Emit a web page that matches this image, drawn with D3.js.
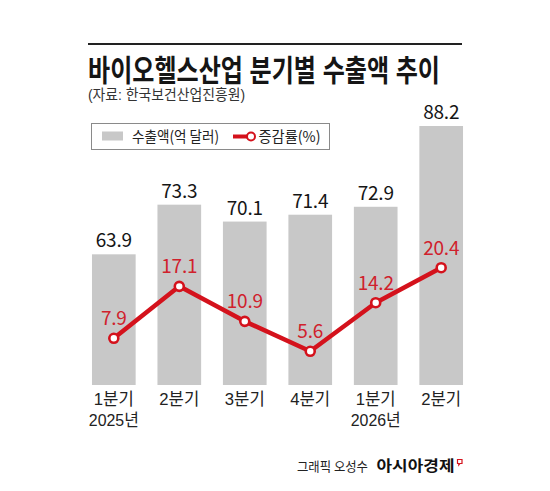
<!DOCTYPE html>
<html>
<head>
<meta charset="utf-8">
<script src="https://cdn.jsdelivr.net/npm/d3@7"></script>
<style>
  html, body { margin: 0; padding: 0; background: #fff; }
  svg { display: block; }
  text { font-family: "Noto Sans CJK KR", "Noto Sans", sans-serif; }
  text.tight { font-family: "Liberation Sans", "Noto Sans CJK KR", sans-serif; }
</style>
</head>
<body>
<script>
// ---- data ----
const quarters = ["1분기", "2분기", "3분기", "4분기", "1분기", "2분기"];
const years = ["2025년", "", "", "", "2026년", ""];
const exports = [63.9, 73.3, 70.1, 71.4, 72.9, 88.2];       // 수출액(억 달러)
const growth = [7.9, 17.1, 10.9, 5.6, 14.2, 20.4];          // 증감률(%)
const title = "바이오헬스산업 분기별 수출액 추이";
const source = "(자료: 한국보건산업진흥원)";
const legendLabels = ["수출액(억 달러)", "증감률(%)"];

const W = 550, H = 491;
const barColor = "#c8c8c8";
const red = "#d4121c";
const redText = "#d0212c";
const ink = "#151515";

const svg = d3.select("body").append("svg").attr("width", W).attr("height", H);

const idx = d3.range(quarters.length);
const x = d3.scaleBand().domain(idx).range([81.5, 473.5]).paddingInner(0.333).paddingOuter(0.16);
const yBar = d3.scaleLinear().domain([39.15, 88.2]).range([385, 126]);
const yLine = d3.scaleLinear().domain([0, 20.4]).range([382.9, 267.7]);
const cx = i => x(i) + x.bandwidth() / 2;

function fit(sel, len) { return sel.attr("textLength", len).attr("lengthAdjust", "spacingAndGlyphs"); }

// top rule
svg.append("line").attr("x1", 88).attr("x2", 462).attr("y1", 44).attr("y2", 44)
  .attr("stroke", "#222").attr("stroke-width", 1.8);

// title + source
fit(svg.append("text").attr("class", "tight").attr("x", 88).attr("y", 80.5).attr("font-size", 30).attr("font-weight", 700)
  .attr("fill", ink).text(title), 352);
fit(svg.append("text").attr("class", "tight").attr("x", 88).attr("y", 100).attr("font-size", 15)
  .attr("fill", "#333").text(source), 157);

// bars
svg.append("g").selectAll("rect").data(exports).join("rect")
  .attr("x", (d, i) => x(i)).attr("width", x.bandwidth())
  .attr("y", d => yBar(d)).attr("height", d => yBar.range()[0] - yBar(d))
  .attr("fill", barColor);

svg.append("g").selectAll("text").data(exports).join("text")
  .attr("x", (d, i) => cx(i)).attr("y", d => yBar(d) - 7)
  .attr("text-anchor", "middle").attr("font-size", 19).attr("fill", ink)
  .attr("letter-spacing", -0.2)
  .text(d => d.toFixed(1));

// line
const line = d3.line().x((d, i) => cx(i)).y(d => yLine(d));
svg.append("path").datum(growth).attr("d", line)
  .attr("fill", "none").attr("stroke", red).attr("stroke-width", 4.5).attr("stroke-linejoin", "round");
svg.append("g").selectAll("circle").data(growth).join("circle")
  .attr("cx", (d, i) => cx(i)).attr("cy", d => yLine(d)).attr("r", 4.5)
  .attr("fill", "#fff").attr("stroke", red).attr("stroke-width", 2.6);
svg.append("g").selectAll("text").data(growth).join("text")
  .attr("x", (d, i) => cx(i)).attr("y", d => yLine(d) - 13)
  .attr("text-anchor", "middle").attr("font-size", 19).attr("fill", redText)
  .attr("letter-spacing", -0.2)
  .text(d => d.toFixed(1));

// x axis labels
const xl = svg.append("g");
xl.selectAll("text.q").data(quarters).join("text").attr("class", "q tight")
  .attr("x", (d, i) => cx(i)).attr("y", 405).attr("text-anchor", "middle")
  .attr("font-size", 17).attr("fill", "#222").text(d => d)
  .attr("textLength", 40).attr("lengthAdjust", "spacingAndGlyphs");
xl.selectAll("text.y").data(years.filter(d => d)).join("text").attr("class", "y tight")
  .attr("x", d => cx(years.indexOf(d))).attr("y", 425.5).attr("text-anchor", "middle")
  .attr("font-size", 17).attr("fill", "#222").text(d => d)
  .attr("textLength", 50).attr("lengthAdjust", "spacingAndGlyphs");

// legend
const lg = svg.append("g");
lg.append("rect").attr("x", 91.5).attr("y", 123.5).attr("width", 238).attr("height", 26)
  .attr("fill", "#fff").attr("stroke", "#8a8a8a").attr("stroke-width", 1);
lg.append("rect").attr("x", 102).attr("y", 131.5).attr("width", 21).attr("height", 9).attr("fill", barColor);
fit(lg.append("text").attr("x", 132).attr("y", 141.5).attr("font-size", 15).attr("fill", "#222")
  .text(legendLabels[0]), 87);
lg.append("line").attr("x1", 233).attr("x2", 248).attr("y1", 136.5).attr("y2", 136.5)
  .attr("stroke", red).attr("stroke-width", 4);
lg.append("circle").attr("cx", 251).attr("cy", 136.5).attr("r", 4).attr("fill", "#fff")
  .attr("stroke", red).attr("stroke-width", 2);
fit(lg.append("text").attr("x", 258.5).attr("y", 141.5).attr("font-size", 15).attr("fill", "#222")
  .text(legendLabels[1]), 62);

// credit
fit(svg.append("text").attr("x", 297).attr("y", 470.5).attr("font-size", 13).attr("fill", "#222")
  .text("그래픽 오성수"), 71);
fit(svg.append("text").attr("x", 376.5).attr("y", 470.5).attr("font-size", 14.5).attr("font-weight", 700)
  .attr("fill", "#111").text("아시아경제"), 78);
svg.append("path").attr("d", "M457.5,459.5 h4.5 v4 h-2 l-1.2,1.5 v-1.5 h-1.3 z")
  .attr("fill", "none").attr("stroke", red).attr("stroke-width", 1.2);
</script>
</body>
</html>
